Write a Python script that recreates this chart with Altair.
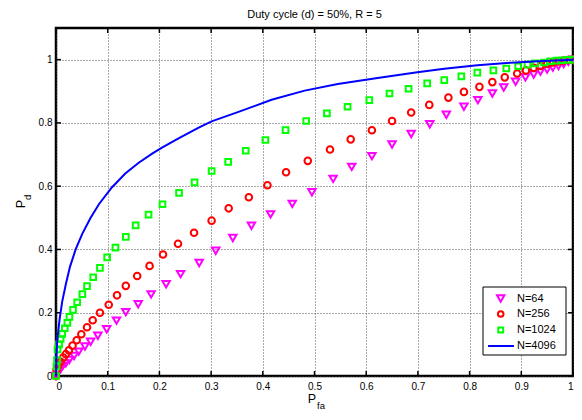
import altair as alt
import pandas as pd

# ---------------- data ----------------
series_names = ["N=64", "N=256", "N=1024", "N=4096"]
series_colors = ["#ff00ff", "#ff0000", "#00ff00", "#0000ff"]
series_shapes = ["triangle-down", "circle", "square"]
series_sizes = [55, 32, 24]

x64 = [0, 0.004, 0.009, 0.013, 0.019, 0.026, 0.035, 0.044, 0.056, 0.067,
       0.081, 0.098, 0.117, 0.135, 0.159, 0.184, 0.213, 0.241, 0.277, 0.309,
       0.342, 0.378, 0.415, 0.457, 0.495, 0.536, 0.572, 0.611, 0.650, 0.687,
       0.723, 0.755, 0.789, 0.816, 0.844, 0.866, 0.889, 0.908, 0.924, 0.937,
       0.950, 0.961, 0.972, 0.982, 0.991, 1.0]
y64 = [0, 0.014, 0.022, 0.032, 0.040, 0.051, 0.063, 0.077, 0.093, 0.108,
       0.127, 0.148, 0.175, 0.202, 0.227, 0.258, 0.290, 0.322, 0.357, 0.396,
       0.436, 0.475, 0.511, 0.544, 0.581, 0.623, 0.661, 0.695, 0.732, 0.765,
       0.796, 0.826, 0.851, 0.872, 0.893, 0.912, 0.930, 0.944, 0.953, 0.962,
       0.969, 0.975, 0.980, 0.986, 0.993, 1.0]

x256 = [0, 0.001, 0.004, 0.009, 0.014, 0.019, 0.025, 0.032, 0.040, 0.049,
        0.060, 0.071, 0.085, 0.102, 0.118, 0.135, 0.157, 0.181, 0.207, 0.236,
        0.267, 0.301, 0.334, 0.373, 0.409, 0.445, 0.487, 0.530, 0.570, 0.611,
        0.650, 0.687, 0.722, 0.759, 0.789, 0.819, 0.844, 0.868, 0.892, 0.909,
        0.924, 0.937, 0.950, 0.961, 0.972, 0.982, 0.991, 1.0]
y256 = [0, 0.019, 0.033, 0.045, 0.058, 0.069, 0.081, 0.096, 0.113, 0.132,
        0.154, 0.176, 0.200, 0.225, 0.255, 0.285, 0.316, 0.348, 0.384, 0.418,
        0.453, 0.491, 0.530, 0.565, 0.603, 0.644, 0.680, 0.716, 0.748, 0.777,
        0.806, 0.833, 0.857, 0.880, 0.898, 0.914, 0.929, 0.944, 0.956, 0.966,
        0.974, 0.980, 0.986, 0.991, 0.994, 0.997, 0.999, 1.0]

x1024 = [0, 0.001, 0.002, 0.003, 0.006, 0.009, 0.012, 0.017, 0.022, 0.026,
         0.033, 0.041, 0.051, 0.060, 0.072, 0.085, 0.099, 0.115, 0.135, 0.154,
         0.179, 0.206, 0.238, 0.268, 0.301, 0.333, 0.367, 0.405, 0.444, 0.484,
         0.524, 0.564, 0.606, 0.645, 0.682, 0.718, 0.751, 0.784, 0.815, 0.846,
         0.871, 0.894, 0.912, 0.927, 0.944, 0.956, 0.968, 0.979, 0.990, 1.0]
y1024 = [0, 0.03, 0.05, 0.084, 0.100, 0.117, 0.133, 0.151, 0.168, 0.187,
         0.209, 0.233, 0.259, 0.284, 0.312, 0.342, 0.375, 0.406, 0.440, 0.476,
         0.510, 0.543, 0.579, 0.612, 0.648, 0.677, 0.712, 0.746, 0.777, 0.806,
         0.830, 0.851, 0.872, 0.893, 0.908, 0.925, 0.935, 0.947, 0.959, 0.966,
         0.972, 0.979, 0.984, 0.988, 0.991, 0.995, 0.997, 0.998, 0.999, 1.0]

x4096 = [0, 0.0005, 0.0025, 0.007, 0.012, 0.019, 0.027, 0.038, 0.051, 0.067,
         0.083, 0.108, 0.134, 0.160, 0.186, 0.205, 0.237, 0.276, 0.301, 0.353,
         0.417, 0.481, 0.545, 0.622, 0.699, 0.751, 0.815, 0.879, 0.943, 1.0]
y4096 = [0, 0.05, 0.114, 0.180, 0.235, 0.290, 0.345, 0.400, 0.450, 0.500,
         0.543, 0.596, 0.640, 0.674, 0.703, 0.722, 0.751, 0.785, 0.805, 0.835,
         0.873, 0.902, 0.923, 0.942, 0.960, 0.971, 0.982, 0.990, 0.996, 1.0]

x_ticks = [0, 0.1, 0.2, 0.3, 0.4, 0.5, 0.6, 0.7, 0.8, 0.9, 1.0]
y_ticks = [0, 0.2, 0.4, 0.6, 0.8, 1.0]

title_text = "Duty cycle (d) = 50%, R = 5"
x_label = ["P", "fa"]
y_label = ["P", "d"]

# ---------------- build ----------------
W, H = 517, 348
FONT = "Liberation Sans"

rows = []
for name, xs, ys in [("N=64", x64, y64), ("N=256", x256, y256), ("N=1024", x1024, y1024)]:
    for a, b in zip(xs, ys):
        rows.append({"series": name, "x": a, "y": b})
pts = pd.DataFrame(rows)
line_df = pd.DataFrame({"series": "N=4096", "x": x4096, "y": y4096})

xscale = alt.Scale(domain=[0, 1], nice=False)
yscale = alt.Scale(domain=[0, 1.1], nice=False)

xaxis = alt.Axis(values=x_ticks, format="~g", title=None, labelPadding=5)
yaxis = alt.Axis(values=y_ticks, format="~g", title=None, labelPadding=4)

pt_names = series_names[:3]
points = alt.Chart(pts).mark_point(filled=False, strokeWidth=2, opacity=1).encode(
    x=alt.X("x:Q", scale=xscale, axis=xaxis),
    y=alt.Y("y:Q", scale=yscale, axis=yaxis),
    color=alt.Color("series:N", scale=alt.Scale(domain=pt_names, range=series_colors[:3]), legend=None),
    shape=alt.Shape("series:N", scale=alt.Scale(domain=pt_names, range=series_shapes), legend=None),
    size=alt.Size("series:N", scale=alt.Scale(domain=pt_names, range=series_sizes), legend=None),
)

line = alt.Chart(line_df).mark_line(color=series_colors[3], strokeWidth=2).encode(
    x=alt.X("x:Q", scale=xscale),
    y=alt.Y("y:Q", scale=yscale),
)

xt = pd.DataFrame({"v": x_ticks})
yt = pd.DataFrame({"v": y_ticks})
tick_bottom = alt.Chart(xt).mark_rule(color="black", strokeWidth=1.5).encode(
    x=alt.X("v:Q", scale=xscale), y=alt.value(H), y2=alt.value(H - 5))
tick_top = alt.Chart(xt).mark_rule(color="black", strokeWidth=1.5).encode(
    x=alt.X("v:Q", scale=xscale), y=alt.value(0), y2=alt.value(5))
tick_left = alt.Chart(yt).mark_rule(color="black", strokeWidth=1.5).encode(
    y=alt.Y("v:Q", scale=yscale), x=alt.value(0), x2=alt.value(5))
tick_right = alt.Chart(yt).mark_rule(color="black", strokeWidth=1.5).encode(
    y=alt.Y("v:Q", scale=yscale), x=alt.value(W), x2=alt.value(W - 5))

def label(txt, x, y, size, align="center", angle=None):
    kw = dict(font=FONT, fontSize=size, align=align, baseline="middle", color="black")
    if angle is not None:
        kw["angle"] = angle
    return alt.Chart(pd.DataFrame({"t": [txt]})).mark_text(**kw).encode(
        text="t:N", x=alt.value(x), y=alt.value(y))

xl_main = label(x_label[0], 256, 371, 12.5)
xl_sub = label(x_label[1], 261, 378, 9.5, align="left")
yl_main = label(y_label[0], -35.5, 176, 12.5, angle=270)
yl_sub = label(y_label[1], -28.5, 172, 9.5, align="left", angle=270)

# ---- legend box ----
LX0, LY0, LX1, LY1 = 427, 259, 510, 327
box = alt.Chart(pd.DataFrame({"k": [0]})).mark_rect(
    fill="white", stroke="black", strokeWidth=1).encode(
    x=alt.value(LX0), x2=alt.value(LX1), y=alt.value(LY0), y2=alt.value(LY1))
legend_layers = [box]
row_y = [270.5, 286, 302, 318]
for i, name in enumerate(series_names):
    if i < 3:
        sym = alt.Chart(pd.DataFrame({"k": [0]})).mark_point(
            shape=series_shapes[i], size=series_sizes[i], filled=False,
            strokeWidth=2, color=series_colors[i], opacity=1).encode(
            x=alt.value(444.7), y=alt.value(row_y[i]))
    else:
        sym = alt.Chart(pd.DataFrame({"k": [0]})).mark_rule(
            color=series_colors[i], strokeWidth=2).encode(
            x=alt.value(432), x2=alt.value(458), y=alt.value(row_y[i]))
    legend_layers.append(sym)
    legend_layers.append(label(name, 461, row_y[i], 11, align="left"))

chart = alt.layer(
    tick_bottom, tick_top, tick_left, tick_right,
    points, line,
    xl_main, xl_sub, yl_main, yl_sub,
    *legend_layers,
).properties(
    width=W, height=H,
    title=alt.TitleParams(title_text, font=FONT, fontSize=11, fontWeight="normal", color="black", offset=7),
    padding={"left": 48, "top": 20, "right": 1, "bottom": 34},
    autosize="none",
).configure_view(
    stroke="black", strokeWidth=2.5
).configure_axis(
    domain=False, ticks=False, labelFont=FONT, labelFontSize=10, labelColor="black",
    grid=True, gridColor="#444444", gridDash=[1, 2], gridWidth=1, gridOpacity=0.9,
)

chart.save("out.html", embed_options={"renderer": "svg", "actions": False})
